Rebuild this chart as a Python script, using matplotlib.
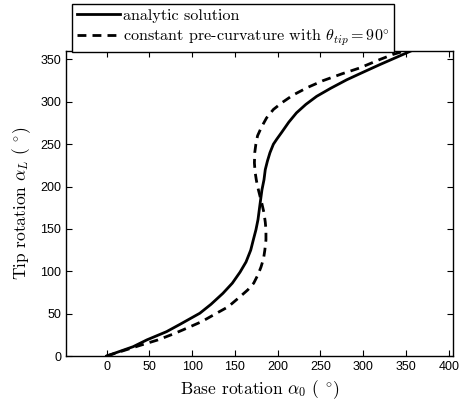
import numpy as np
import matplotlib
matplotlib.use("Agg")
import matplotlib.pyplot as plt

plt.rcParams['mathtext.fontset'] = 'cm'
plt.rcParams['axes.unicode_minus'] = False

# analytic solution (base rotation vs tip rotation, degrees)
analytic_x = [0, 31, 47, 70, 86, 109, 122, 136, 147, 156, 163, 168.5, 171.5, 174.6, 177, 178.5,
              180, 181.6, 184, 185.5, 188, 191, 195, 199, 204.7, 213, 222, 233, 245.6, 262,
              280.7, 300, 319.6, 340, 358]
analytic_y = [0, 11, 19, 28.7, 37.5, 50.5, 61, 74, 86, 99, 111, 125, 137, 149, 161, 172.6,
              184, 196, 208, 220, 230, 240, 250, 256, 264, 276, 287, 297, 306.5, 316,
              326, 335, 344, 353, 361]

# constant pre-curvature, theta_tip = 90 deg
precurv_x = [0, 15.6, 39, 60, 78, 89.6, 111, 128.6, 142, 156, 165, 172, 177, 180.5, 183.5, 185,
             186.3, 186.3, 185.5, 184, 181.5, 179, 176.5, 175, 173.5, 172.8, 173.2, 174.5, 176.5,
             181, 187, 195, 205, 218, 235, 253, 275, 296, 319.6, 335, 355]
precurv_y = [0, 5, 12.5, 19, 26, 31, 40.5, 50.5, 58, 70, 78, 86, 96, 105, 115, 125,
             137, 149, 158, 169, 180, 190, 200, 208, 218, 228, 240, 250, 260,
             270, 281, 291, 299, 308, 317, 325, 333, 340, 350, 356, 362]

fig = plt.figure(figsize=(4.61, 4.07), dpi=100)
ax = fig.add_axes([0.1432, 0.1253, 0.9826 - 0.1432, 0.8747 - 0.1253])

ax.plot(analytic_x, analytic_y, 'k-', lw=2, label='analytic solution')
ax.plot(precurv_x, precurv_y, 'k--', lw=2, dashes=(3.2, 2.2),
        label=r'constant pre-curvature with $\theta_{tip} = 90^{\circ}$')

ax.set_xlim(-47.5, 405)
ax.set_ylim(0, 360)
ax.set_xticks(np.arange(0, 401, 50))
ax.set_yticks(np.arange(0, 351, 50))
ax.tick_params(direction='in', top=True, right=True, length=4, width=0.8, labelsize=9)
for lab in ax.get_xticklabels() + ax.get_yticklabels():
    lab.set_family('Liberation Sans')
for s in ax.spines.values():
    s.set_linewidth(1.0)

ax.set_xlabel(r'Base rotation $\alpha_0$ ( $^{\circ}$)', family='cmr10', fontsize=12.5, labelpad=4)
ax.set_ylabel(r'Tip rotation $\alpha_L$ ( $^{\circ}$)', family='cmr10', fontsize=12.5, labelpad=5)

leg = ax.legend(loc='upper left', bbox_to_anchor=(0.0155, 1.154), prop={'family': 'cmr10', 'size': 11.6},
                fancybox=False, framealpha=1, edgecolor='k', handlelength=2.7, handletextpad=0.15,
                borderpad=0.3, labelspacing=0.25, borderaxespad=0)
leg.get_frame().set_linewidth(1.0)
leg.set_zorder(5)

fig.savefig('out.png', dpi=100)
